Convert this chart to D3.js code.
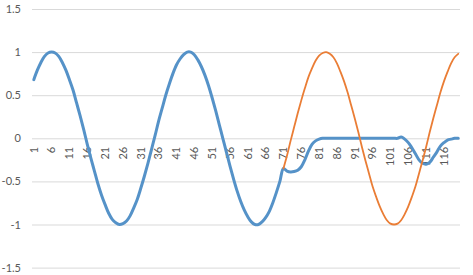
<!DOCTYPE html>
<html>
<head>
<meta charset="utf-8">
<script src="https://cdn.jsdelivr.net/npm/d3@7"></script>
<style>
  html, body { margin: 0; padding: 0; background: #ffffff; }
  svg { display: block; }
</style>
</head>
<body>
<svg id="chart" width="473" height="275"></svg>
<script>
// ---- data ----
const categories = d3.range(1, 121); // 1..120

// Series 1 (blue), one value per category
const series1 = [
  0.68, 0.79, 0.88, 0.95, 0.99, 1.00, 0.99, 0.95, 0.88, 0.79,
  0.68, 0.56, 0.41, 0.26, 0.10, -0.07, -0.23, -0.38, -0.53, -0.66,
  -0.77, -0.87, -0.94, -0.98, -1.00, -0.99, -0.96, -0.90, -0.81, -0.71,
  -0.58, -0.44, -0.29, -0.13, 0.03, 0.20, 0.35, 0.50, 0.63, 0.75,
  0.85, 0.92, 0.97, 1.00, 1.00, 0.97, 0.91, 0.83, 0.73, 0.61,
  0.47, 0.32, 0.16, 0.00, -0.16, -0.32, -0.47, -0.61, -0.73, -0.83,
  -0.91, -0.97, -1.00, -1.00, -0.97, -0.92, -0.85, -0.75, -0.63, -0.50,
  -0.35, -0.38, -0.39, -0.385, -0.37, -0.33, -0.25, -0.15, -0.07, -0.03,
  -0.01, 0, 0, 0, 0, 0, 0, 0, 0, 0,
  0, 0, 0, 0, 0, 0, 0, 0, 0, 0,
  0, 0, 0, 0.015, -0.01, -0.05, -0.11, -0.18, -0.25, -0.29,
  -0.30, -0.28, -0.22, -0.16, -0.09, -0.05, -0.02, -0.01, 0, 0
];

// Series 2 (orange), starts at category 71
const series2Start = 71;
const series2 = [
  -0.35, -0.20, -0.03, 0.13, 0.29, 0.44, 0.58, 0.71, 0.81, 0.90,
  0.96, 0.99, 1.00, 0.98, 0.94, 0.87, 0.77, 0.66, 0.53, 0.38,
  0.23, 0.07, -0.10, -0.26, -0.41, -0.56, -0.68, -0.79, -0.88, -0.95,
  -0.99, -1.00, -0.99, -0.95, -0.88, -0.79, -0.68, -0.56, -0.41, -0.26,
  -0.10, 0.07, 0.23, 0.38, 0.53, 0.66, 0.77, 0.87, 0.94, 0.98
];

const yTicks = [-1.5, -1, -0.5, 0, 0.5, 1, 1.5];
const yTickLabels = ["-1.5", "-1", "-0.5", "0", "0.5", "1", "1.5"];
const xTickLabels = [1, 6, 11, 16, 21, 26, 31, 36, 41, 46, 51, 56, 61, 66, 71, 76, 81, 86, 91, 96, 101, 106, 111, 116];

// ---- layout ----
const svg = d3.select("#chart");
const plot = { left: 32, right: 460, top: 9, bottom: 267.6 };
const font = "Lato, 'Open Sans', sans-serif";
const textColor = "#595959";

const x = d3.scaleBand().domain(categories).range([plot.left, plot.right]).padding(0);
const y = d3.scaleLinear().domain([-1.5, 1.5]).range([plot.bottom, plot.top]);
const cx = c => x(c) + x.bandwidth() / 2;

// gridlines
const grid = svg.append("g")
  .attr("transform", `translate(${plot.left},0)`)
  .call(d3.axisLeft(y).tickValues(yTicks).tickSize(-(plot.right - plot.left)).tickFormat(""));
grid.select(".domain").remove();
grid.selectAll("line").attr("stroke", "#d9d9d9").attr("stroke-width", 1);

// y labels
const yAxis = svg.append("g")
  .attr("transform", `translate(${plot.left},0)`)
  .call(d3.axisLeft(y).tickValues(yTicks).tickSize(0).tickPadding(11)
    .tickFormat((d, i) => yTickLabels[yTicks.indexOf(d)]));
yAxis.select(".domain").remove();
yAxis.selectAll("text")
  .attr("fill", textColor)
  .style("font-family", font)
  .style("font-size", "11px");

// x labels (rotated), at the zero line
const xAxis = svg.append("g")
  .attr("transform", `translate(0,${y(0)})`)
  .call(d3.axisBottom(x).tickValues(xTickLabels).tickSize(0));
xAxis.select(".domain").remove();
xAxis.selectAll("text")
  .attr("transform", "rotate(-90)")
  .attr("text-anchor", "end")
  .attr("x", -8.5)
  .attr("y", 0)
  .attr("dy", "0.35em")
  .attr("fill", textColor)
  .style("font-family", font)
  .style("font-size", "11px");

// lines
const line = d3.line()
  .x(d => cx(d.c))
  .y(d => y(d.v))
  .curve(d3.curveCatmullRom.alpha(0.5));

const s1 = categories.map((c, i) => ({ c, v: series1[i] }));
const s2 = series2.map((v, i) => ({ c: series2Start + i, v }));

svg.append("path")
  .datum(s1)
  .attr("d", line)
  .attr("fill", "none")
  .attr("stroke", "#5592c8")
  .attr("stroke-width", 3)
  .attr("stroke-linejoin", "round")
  .attr("stroke-linecap", "round");

svg.append("path")
  .datum(s2)
  .attr("d", line)
  .attr("fill", "none")
  .attr("stroke", "#ea7d35")
  .attr("stroke-width", 1.8)
  .attr("stroke-linejoin", "round")
  .attr("stroke-linecap", "round");
</script>
</body>
</html>
